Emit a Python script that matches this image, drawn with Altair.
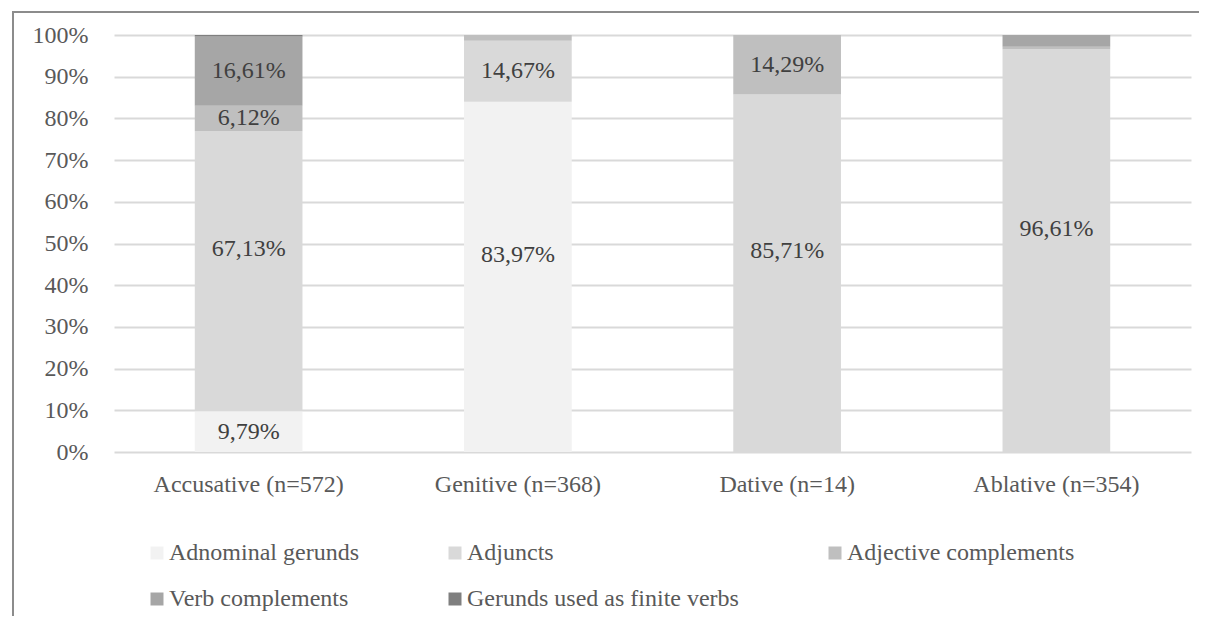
import altair as alt
import pandas as pd

categories = ["Accusative (n=572)", "Genitive (n=368)", "Dative (n=14)", "Ablative (n=354)"]
series = ["Adnominal gerunds", "Adjuncts", "Adjective complements", "Verb complements", "Gerunds used as finite verbs"]
adnominal = [9.79, 83.97, 0.0, 0.0]
adjuncts = [67.13, 14.67, 85.71, 96.61]
adj_compl = [6.12, 1.36, 14.29, 0.56]
verb_compl = [16.61, 0.0, 0.0, 2.83]
finite = [0.35, 0.0, 0.0, 0.0]
colors = ["#f2f2f2", "#d9d9d9", "#bfbfbf", "#a6a6a6", "#7f7f7f"]
y_ticks = [0, 10, 20, 30, 40, 50, 60, 70, 80, 90, 100]

rows = []
for si, (name, vals) in enumerate(zip(series, [adnominal, adjuncts, adj_compl, verb_compl, finite])):
    for ci, cat in enumerate(categories):
        rows.append({"category": cat, "series": name, "order": si, "value": vals[ci]})
df = pd.DataFrame(rows)

FONT = "Liberation Serif"

x_enc = alt.X("category:N", sort=categories,
              scale=alt.Scale(paddingInner=0.6, paddingOuter=0.3),
              axis=alt.Axis(title=None, labelAngle=0, ticks=False, domain=False, grid=False,
                            labelFontSize=24, labelFont=FONT, labelColor="#595959", labelPadding=20,
                            labelLimit=400))

base = alt.Chart(df).transform_stack(
    stack="value", as_=["y0", "y1"], groupby=["category"], sort=[alt.SortField("order", order="ascending")]
).transform_calculate(
    mid="(datum.y0 + datum.y1) / 2",
    label="replace(format(datum.value, '.2f'), '.', ',') + '%'"
)

bars = base.mark_bar(strokeWidth=0).encode(
    x=x_enc,
    y=alt.Y("y0:Q", scale=alt.Scale(domain=[0, 100], nice=False),
            axis=alt.Axis(title=None, values=y_ticks, labelExpr="datum.value + '%'", ticks=False,
                          domain=False, grid=True, gridColor="#d9d9d9", gridWidth=2,
                          labelFontSize=24, labelFont=FONT, labelColor="#595959", labelPadding=26)),
    y2="y1:Q",
    color=alt.Color("series:N", scale=alt.Scale(domain=series, range=colors),
                    legend=alt.Legend(orient="none", legendX=31, legendY=506, direction="horizontal",
                                      columns=3, symbolType="square", symbolSize=169,
                                      symbolStrokeWidth=0, labelFontSize=24, labelFont=FONT,
                                      labelColor="#595959", labelOffset=0, columnPadding=84,
                                      rowPadding=22, gridAlign="each", title=None, labelLimit=400)),
    order=alt.Order("order:Q", sort="ascending"),
)

text_small = base.transform_filter("datum.value >= 5 && datum.value < 50").mark_text(
    fontSize=24, font=FONT, color="#404040"
).encode(x=alt.X("category:N", sort=categories), y=alt.Y("mid:Q"), text="label:N")

text_big = base.transform_filter("datum.value >= 50").mark_text(
    fontSize=24, font=FONT, color="#404040", dy=-22
).encode(x=alt.X("category:N", sort=categories), y=alt.Y("mid:Q"), text="label:N")

border_left = alt.Chart(df).mark_rule(color="#8c8c8c", strokeWidth=2).encode(
    x=alt.value(-101), y=alt.value(-24), y2=alt.value(600)
)
border_top = alt.Chart(df).mark_rule(color="#8c8c8c", strokeWidth=2).encode(
    x=alt.value(-102), x2=alt.value(1200), y=alt.value(-23)
)

chart = alt.layer(bars, text_small, text_big, border_left, border_top).properties(
    width=1077, height=417,
    autosize=alt.AutoSizeParams(type="none"),
    padding={"left": 106, "top": 27, "right": 8, "bottom": 164},
    background="white",
).configure_view(stroke=None)

chart.save("out.html", embed_options={"renderer": "svg", "actions": False})
